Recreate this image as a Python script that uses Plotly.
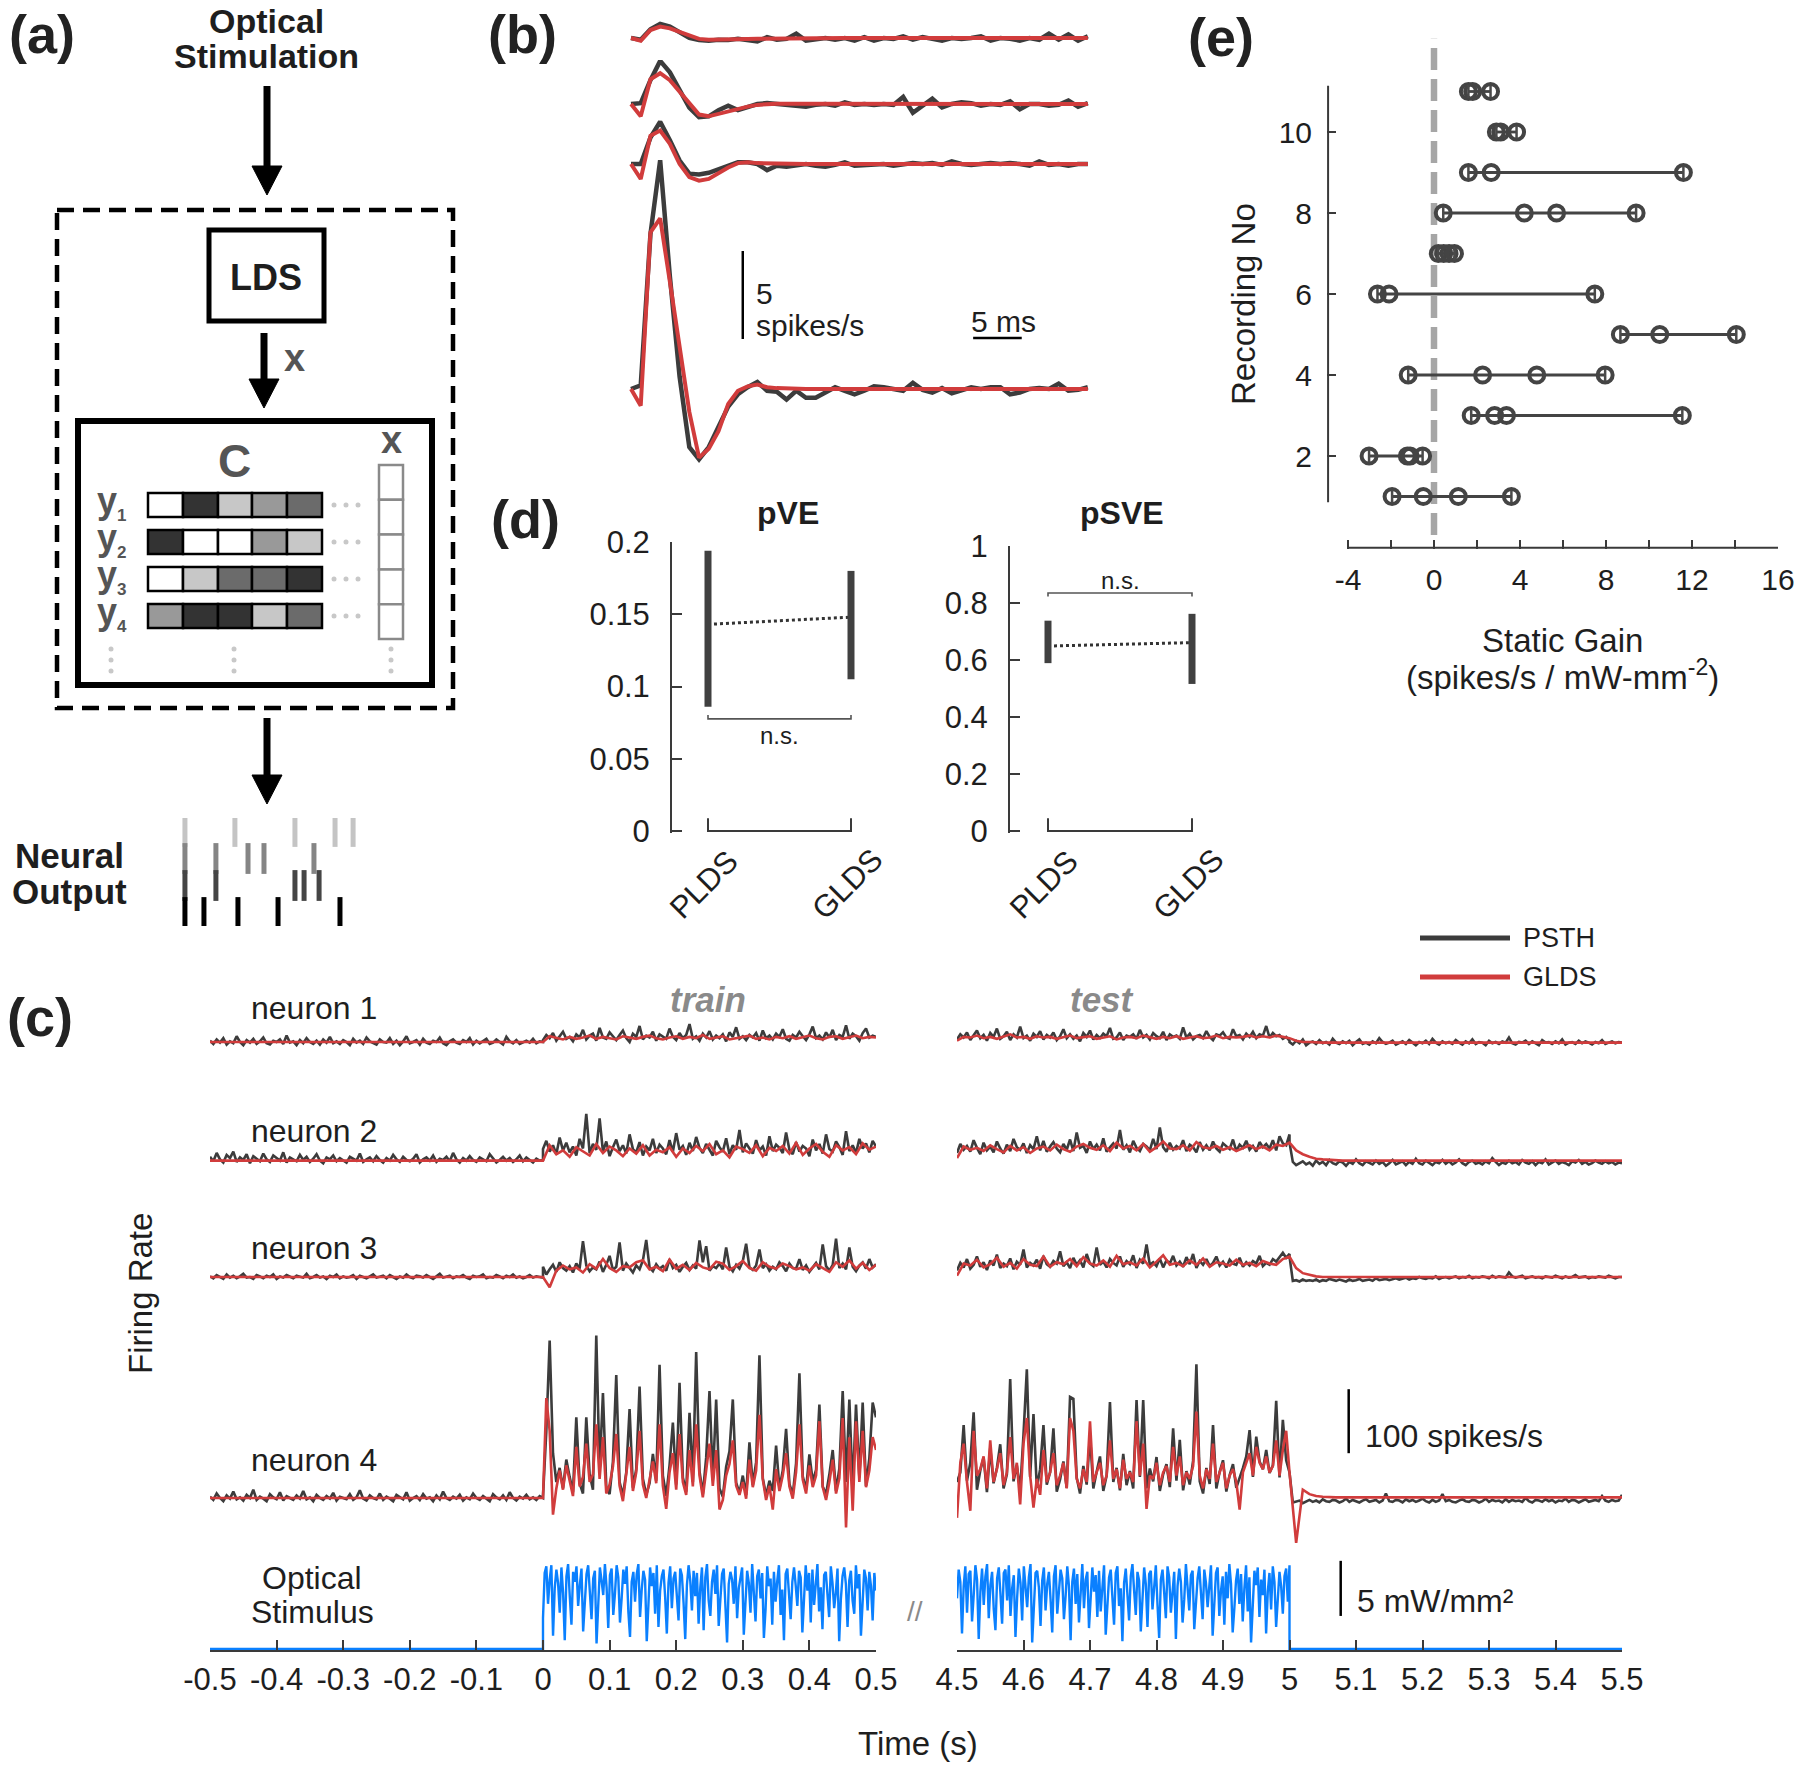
import numpy as np
import plotly.graph_objects as go

W, H = 1800, 1768
FONT = "Liberation Sans, Arial, Helvetica, sans-serif"
INK = "#1e1e1e"
AX = "#3a3a3a"
DARK = "#3c3c3c"
RED = "#d13c3c"
BLUE = "#0a80ff"
SCHEM_GREY = "#555555"

# ---------------- (a) schematic content
C_LEVELS = [[0.0, 0.8, 0.22, 0.4, 0.58],
            [0.8, 0.0, 0.0, 0.4, 0.22],
            [0.0, 0.22, 0.58, 0.58, 0.8],
            [0.4, 0.8, 0.8, 0.22, 0.58]]
RASTER_SPIKES_MS = [[2.6, 28.9, 60.5, 81.6, 91.1],
                    [2.6, 18.9, 35.8, 44.2, 70.5],
                    [2.6, 18.9, 60.5, 65.3, 73.2],
                    [2.6, 12.6, 30.5, 51.6, 84.2]]
RASTER_COLORS = ["#c4c4c4", "#858585", "#454545", "#000000"]

# ---------------- (b) impulse responses (spikes/s, 1 ms bins)
B1_PSTH = [0, -0.1, 0.5, 0.8, 0.65, 0.35, 0.0, -0.12, -0.15, -0.1, -0.12, -0.05, -0.1, -0.2, 0.05, -0.1,
           -0.05, 0.25, -0.15, -0.05, 0.0, -0.1, 0.0, -0.15, 0.05, -0.15, 0.0, -0.05, 0.1, -0.1, 0.05, -0.05,
           -0.15, 0.0, -0.05, 0.0, 0.1, -0.15, 0.0, -0.05, -0.15, 0.0, -0.1, 0.25, -0.1, 0.2, -0.15, 0.1]
B1_GLDS = [0, -0.15, 0.45, 0.65, 0.55, 0.35, 0.1, -0.05, -0.1, -0.1, -0.08, -0.06, -0.05, -0.04, -0.03, -0.02,
           -0.02, -0.01, -0.01, 0, 0, 0, 0, 0, 0, 0, 0, 0, 0, 0, 0, 0,
           0, 0, 0, 0, 0, 0, 0, 0, 0, 0, 0, 0, 0, 0, 0, 0]
B2_PSTH = [0, 0.05, 1.35, 2.45, 1.8, 0.75, -0.2, -0.75, -0.7, -0.35, -0.1, -0.35, -0.15, 0.0, 0.05, 0.0,
           -0.05, -0.1, -0.15, -0.05, 0.0, -0.1, 0.1, -0.05, 0.0, -0.05, 0.0, -0.05, 0.4, -0.5, -0.1, 0.3,
           -0.2, 0.0, 0.1, 0.05, -0.1, 0.0, -0.05, 0.15, -0.3, 0.0, 0.0, -0.1, -0.05, 0.2, -0.15, 0.05]
B2_GLDS = [0, -0.7, 1.4, 1.75, 1.35, 0.7, 0.0, -0.6, -0.7, -0.55, -0.4, -0.25, -0.15, -0.05, 0.0, 0.02,
           0.02, 0.02, 0.01, 0.01, 0, 0, 0, 0, 0, 0, 0, 0, 0, 0, 0, 0,
           0, 0, 0, 0, 0, 0, 0, 0, 0, 0, 0, 0, 0, 0, 0, 0]
B3_PSTH = [0, 0.0, 1.5, 2.4, 1.35, 0.2, -0.55, -0.6, -0.5, -0.3, -0.1, 0.1, 0.1, 0.0, -0.35, -0.1,
           -0.15, -0.05, 0.0, -0.1, -0.15, -0.05, 0.1, -0.1, -0.05, 0.0, 0.0, -0.1, -0.05, 0.05, 0.0, 0.05,
           -0.05, 0.15, 0.0, -0.05, 0.0, 0.05, 0.0, 0.05, 0.0, -0.1, 0.15, -0.05, 0.0, -0.1, 0.0, 0.0]
B3_GLDS = [0, -0.85, 1.6, 1.9, 1.15, 0.0, -0.75, -0.95, -0.85, -0.5, -0.2, 0.05, 0.1, 0.05, 0.03, 0.02,
           0.01, 0, 0, 0, 0, 0, 0, 0, 0, 0, 0, 0, 0, 0, 0, 0,
           0, 0, 0, 0, 0, 0, 0, 0, 0, 0, 0, 0, 0, 0, 0, 0]
B4_PSTH = [0, 0.2, 8.8, 13.0, 6.4, 0.7, -3.3, -4.0, -3.3, -2.2, -1.0, -0.3, 0.1, 0.4, -0.1, -0.15,
           -0.6, -0.1, -0.5, -0.5, -0.2, 0.1, -0.1, -0.3, -0.1, 0.15, 0.1, 0.0, -0.1, 0.35, -0.05, -0.2,
           0.05, -0.25, -0.1, 0.1, 0.0, 0.1, 0.1, -0.3, -0.2, 0.0, 0.05, 0.0, 0.3, -0.1, -0.05, 0.1]
B4_GLDS = [0, -0.95, 8.9, 9.7, 6.1, 2.4, -1.3, -3.9, -3.4, -2.4, -0.85, -0.1, 0.15, 0.25, 0.1, 0.05,
           0.02, 0.0, 0, 0, 0, 0, 0, 0, 0, 0, 0, 0, 0, 0, 0, 0,
           0, 0, 0, 0, 0, 0, 0, 0, 0, 0, 0, 0, 0, 0, 0, 0]

# ---------------- (d) variance explained
D_MODELS = ["PLDS", "GLDS"]
PVE_LOW = [0.086, 0.105]
PVE_HIGH = [0.194, 0.180]
PVE_MEAN = [0.143, 0.148]
PSVE_LOW = [0.589, 0.516]
PSVE_HIGH = [0.738, 0.762]
PSVE_MEAN = [0.649, 0.661]

# ---------------- (e) static gains per recording
E_RECORDINGS = [1, 2, 3, 4, 5, 6, 7, 8, 9, 10, 11]
E_GAINS = [[-1.95, -0.5, 1.13, 3.6],
           [-3.02, -1.24, -1.11, -0.53],
           [1.73, 2.82, 3.37, 11.55],
           [-1.2, 2.26, 4.78, 7.96],
           [8.67, 10.5, 14.06],
           [-2.63, -2.09, 7.48],
           [0.2, 0.45, 0.7, 0.95],
           [0.43, 4.2, 5.7, 9.4],
           [1.6, 2.66, 11.6],
           [2.9, 3.1, 3.84],
           [1.6, 1.8, 2.63]]

# ---------------- (c) firing rates (spikes/s)
# train: "off" = -0.5..0 s, "on" = 0..0.5 s ; test: "on" = 4.5..5 s, "off" = 5..5.5 s
N1_TRAIN_OFF_PSTH = [17, 12, 19, 14, 21, 11, 16, 13, 24, 15, 10, 18, 14, 20, 12, 16, 22, 13, 11, 17, 15, 19, 12, 25, 14,
                     16, 10, 18, 13, 21, 15, 12, 17, 11, 19, 14, 23, 13, 16, 12, 18, 15, 10, 20, 14, 17, 12, 22, 16, 13,
                     11, 19, 15, 14, 21, 12, 17, 10, 16, 24, 13, 15, 18, 11, 20, 14, 12, 17, 15, 22, 13, 10, 16, 19, 14,
                     12, 18, 15, 21, 11, 17, 13, 16, 20, 12, 14, 19, 15, 11, 23, 16, 13, 18, 12, 15, 17, 14, 20, 13, 16, 15]
N1_TRAIN_OFF_GLDS = [15, 15]
N1_TRAIN_ON_PSTH = [18, 26, 21, 29, 17, 24, 31, 20, 23, 16, 27, 22, 34, 19, 25, 28, 17, 37, 22, 20, 30, 24, 18, 26, 33,
                    21, 15, 28, 23, 40, 19, 25, 22, 31, 17, 27, 24, 20, 36, 23, 18, 29, 21, 26, 43, 20, 24, 17, 28, 22,
                    32, 19, 25, 21, 27, 16, 30, 23, 38, 20, 24, 18, 26, 22, 29, 17, 33, 21, 25, 19, 28, 23, 35, 20, 17,
                    26, 22, 31, 24, 18, 27, 39, 21, 25, 19, 30, 22, 34, 18, 26, 23, 41, 20, 28, 24, 17, 29, 36, 22, 25, 23]
N1_TRAIN_ON_GLDS = [15, 24, 21, 19, 23, 20, 22, 25, 20, 23, 21, 19, 24, 22, 20, 23, 25, 21, 19, 22, 24, 20, 23, 21, 26,
                    20, 22, 24, 19, 21, 23, 25, 20, 22, 19, 23, 21, 24, 20, 22, 25, 21, 19, 23, 24, 20, 22, 25, 21, 23, 22]
N1_TEST_ON_PSTH = [19, 27, 22, 30, 18, 25, 33, 21, 26, 17, 29, 23, 36, 20, 24, 31, 18, 27, 22, 39, 21, 25, 17, 28, 23,
                   32, 19, 26, 22, 30, 18, 24, 35, 21, 27, 20, 25, 16, 29, 23, 33, 19, 26, 21, 28, 24, 37, 20, 22, 30,
                   18, 25, 23, 27, 20, 34, 22, 26, 19, 29, 24, 21, 31, 18, 27, 23, 25, 20, 38, 22, 28, 19, 24, 26, 21,
                   32, 23, 18, 27, 25, 30, 22, 20, 35, 24, 26, 19, 28, 23, 31, 21, 27, 25, 40, 22, 29, 24, 26, 20, 23, 17]
N1_TEST_ON_GLDS = [17, 23, 22, 25, 21, 23, 20, 24, 27, 22, 23, 20, 24, 22, 23, 20, 22, 25, 21, 22, 24, 20, 22, 24, 19,
                   22, 23, 21, 25, 22, 20, 23, 21, 24, 20, 22, 24, 21, 22, 25, 21, 23, 22, 23, 25, 22, 24, 22, 25, 23, 21]
N1_TEST_OFF_PSTH = [15, 11, 17, 13, 19, 10, 14, 16, 12, 18, 13, 15, 11, 20, 14, 12, 16, 13, 17, 10, 15, 19, 12, 14, 11,
                    16, 13, 21, 15, 12, 14, 17, 11, 13, 16, 12, 18, 14, 10, 15, 13, 17, 12, 20, 14, 11, 16, 13, 15, 12,
                    18, 14, 11, 16, 13, 19, 12, 15, 14, 10, 17, 13, 15, 12, 16, 14, 22, 13, 11, 15, 14, 17, 12, 16, 13,
                    10, 18, 14, 15, 12, 16, 13, 19, 11, 14, 15, 12, 17, 13, 16, 14, 11, 15, 13, 18, 12, 14, 16, 13, 15, 14]
N1_TEST_OFF_GLDS = [21, 17, 15, 15, 14, 14, 14, 14, 14, 14, 14, 14, 14, 14, 14, 14, 14, 14, 14, 14, 14, 14, 14, 14, 14,
                    14, 14, 14, 14, 14, 14, 14, 14, 14, 14, 14, 14, 14, 14, 14, 14, 14, 14, 14, 14, 14, 14, 14, 14, 14, 14]

N2_TRAIN_OFF_PSTH = [20, 13, 26, 16, 11, 23, 18, 28, 12, 19, 15, 24, 10, 21, 17, 13, 25, 16, 12, 22, 18, 14, 27, 11, 19,
                     16, 13, 23, 15, 20, 12, 17, 24, 14, 10, 19, 16, 22, 13, 18, 15, 11, 20, 17, 14, 25, 12, 16, 19, 13,
                     21, 15, 11, 18, 14, 23, 16, 12, 20, 15, 13, 17, 24, 11, 16, 19, 14, 22, 12, 17, 15, 20, 13, 26, 16,
                     11, 18, 14, 21, 15, 12, 19, 16, 13, 24, 17, 11, 15, 20, 14, 18, 12, 16, 22, 13, 19, 15, 11, 17, 14, 15]
N2_TRAIN_OFF_GLDS = [14, 14]
N2_TRAIN_ON_PSTH = [32, 45, 28, 38, 24, 50, 30, 42, 27, 36, 22, 48, 33, 87, 26, 40, 31, 80, 28, 44, 21, 35, 47, 29, 38,
                    25, 55, 32, 27, 43, 22, 36, 30, 48, 26, 39, 33, 24, 46, 28, 57, 31, 37, 23, 42, 29, 51, 34, 26, 40,
                    30, 22, 45, 35, 28, 49, 24, 38, 31, 62, 27, 41, 33, 25, 46, 30, 36, 22, 52, 29, 39, 34, 26, 58, 31,
                    24, 43, 28, 37, 33, 21, 47, 30, 40, 25, 55, 32, 28, 44, 35, 23, 60, 29, 38, 26, 48, 33, 41, 27, 45, 36]
N2_TRAIN_ON_GLDS = [14, 38, 24, 30, 20, 35, 28, 22, 40, 26, 36, 30, 21, 33, 25, 38, 22, 31, 27, 35, 20, 33, 26, 37, 29,
                    40, 24, 30, 19, 36, 32, 26, 38, 21, 34, 29, 37, 25, 42, 23, 33, 40, 28, 20, 38, 30, 35, 24, 41, 31, 36]
N2_TEST_ON_PSTH = [26, 40, 31, 37, 28, 46, 34, 24, 42, 30, 36, 27, 44, 33, 25, 39, 29, 48, 35, 31, 41, 26, 38, 32, 52,
                   30, 45, 28, 36, 43, 33, 27, 40, 31, 47, 29, 58, 34, 37, 26, 44, 32, 39, 30, 49, 28, 35, 41, 33, 62,
                   31, 38, 27, 45, 34, 29, 40, 36, 30, 48, 32, 66, 35, 28, 42, 31, 37, 33, 46, 29, 39, 35, 27, 43, 31,
                   38, 30, 44, 33, 28, 41, 36, 32, 47, 29, 39, 34, 45, 31, 37, 28, 43, 35, 40, 33, 46, 30, 52, 41, 38, 55]
N2_TEST_ON_GLDS = [18, 36, 31, 34, 29, 38, 32, 27, 37, 30, 35, 26, 33, 36, 30, 39, 32, 28, 36, 40, 34, 31, 38, 29, 42,
                   33, 37, 30, 40, 28, 35, 44, 33, 32, 38, 30, 43, 35, 33, 37, 31, 35, 29, 34, 38, 32, 36, 30, 39, 37, 42]
N2_TEST_OFF_PSTH = [42, 12, 7, 10, 13, 8, 11, 6, 14, 9, 12, 7, 15, 10, 8, 13, 11, 6, 12, 9, 16, 10, 7, 13, 11,
                    8, 14, 9, 12, 6, 10, 15, 8, 11, 13, 7, 12, 9, 17, 10, 8, 14, 11, 7, 12, 10, 15, 9, 13, 8,
                    11, 16, 10, 7, 12, 14, 9, 11, 8, 13, 10, 18, 12, 7, 11, 9, 14, 10, 12, 8, 15, 11, 9, 13, 7,
                    12, 10, 16, 8, 11, 14, 9, 12, 10, 7, 13, 11, 15, 9, 12, 8, 10, 14, 11, 9, 13, 10, 12, 8, 11, 10]
N2_TEST_OFF_GLDS = [42, 30, 24, 20, 17, 16, 15, 15, 14, 14, 14, 14, 14, 14, 14, 14, 14, 14, 14, 14, 14, 14, 14, 14, 14,
                    14, 14, 14, 14, 14, 14, 14, 14, 14, 14, 14, 14, 14, 14, 14, 14, 14, 14, 14, 14, 14, 14, 14, 14, 14, 14]

N3_TRAIN_OFF_PSTH = [13, 10, 15, 12, 9, 16, 11, 14, 10, 13, 17, 11, 12, 9, 15, 13, 10, 14, 12, 16, 9, 13, 11, 15, 12,
                     10, 14, 13, 11, 17, 10, 12, 15, 11, 13, 9, 14, 12, 16, 10, 13, 11, 12, 15, 9, 14, 12, 10, 13, 16,
                     11, 12, 14, 10, 15, 12, 9, 13, 11, 16, 12, 10, 14, 13, 11, 15, 12, 9, 13, 17, 11, 12, 14, 10, 13,
                     12, 15, 11, 9, 14, 12, 13, 16, 10, 12, 11, 15, 13, 10, 14, 12, 16, 11, 13, 10, 12, 15, 11, 13, 12, 11]
N3_TRAIN_OFF_GLDS = [12, 12]
N3_TRAIN_ON_PSTH = [28, 16, 24, 31, 20, 35, 26, 22, 29, 19, 33, 25, 68, 30, 21, 27, 24, 36, 20, 31, 45, 23, 28, 66, 22,
                    33, 26, 19, 30, 24, 38, 70, 27, 21, 32, 25, 29, 22, 40, 26, 31, 20, 28, 34, 23, 30, 25, 69, 35, 60,
                    22, 29, 26, 33, 24, 58, 28, 21, 31, 25, 37, 64, 27, 23, 30, 55, 26, 32, 22, 28, 24, 35, 29, 21, 33,
                    26, 25, 40, 23, 30, 20, 27, 34, 24, 63, 29, 22, 31, 72, 26, 33, 24, 58, 28, 21, 30, 35, 25, 40, 27, 32]
N3_TRAIN_ON_GLDS = [12, -4, 22, 30, 24, 27, 19, 32, 25, 40, 26, 20, 29, 27, 35, 38, 24, 28, 21, 39, 25, 31, 23, 34, 27,
                    24, 36, 33, 23, 29, 37, 26, 22, 35, 28, 25, 33, 29, 24, 27, 22, 32, 26, 20, 35, 28, 38, 25, 34, 23, 31]
N3_TEST_ON_PSTH = [22, 34, 27, 40, 25, 31, 44, 28, 35, 23, 38, 30, 47, 26, 33, 29, 41, 24, 36, 31, 55, 27, 34, 30, 39,
                   25, 45, 32, 28, 37, 33, 52, 29, 35, 26, 42, 31, 38, 27, 48, 33, 29, 58, 31, 36, 27, 40, 34, 30, 44,
                   28, 37, 32, 46, 26, 39, 33, 63, 31, 35, 29, 41, 27, 38, 33, 45, 30, 36, 28, 43, 32, 48, 26, 37, 31,
                   40, 29, 34, 44, 30, 36, 27, 39, 33, 31, 42, 28, 35, 30, 37, 33, 45, 29, 34, 31, 40, 36, 44, 50, 42, 48]
N3_TEST_ON_GLDS = [14, 33, 30, 39, 27, 32, 42, 28, 34, 25, 40, 31, 29, 44, 28, 35, 32, 40, 29, 43, 33, 30, 38, 28, 45,
                   32, 35, 30, 41, 27, 36, 46, 31, 34, 29, 38, 31, 41, 28, 35, 33, 30, 39, 31, 34, 29, 37, 33, 31, 40, 44]
N3_TEST_OFF_PSTH = [44, 6, 7, 5, 8, 6, 7, 6, 8, 5, 7, 6, 9, 7, 6, 8, 7, 5, 8, 6, 7, 9, 6, 7, 8,
                    6, 10, 7, 8, 9, 7, 8, 10, 8, 9, 11, 8, 10, 9, 12, 10, 9, 11, 10, 13, 9, 11, 12, 10, 11,
                    13, 10, 12, 11, 14, 10, 12, 11, 13, 12, 10, 14, 11, 13, 12, 11, 19, 13, 11, 12, 14, 10, 12, 13, 11,
                    12, 10, 13, 12, 11, 14, 12, 10, 13, 11, 12, 15, 11, 12, 13, 10, 12, 11, 13, 12, 11, 14, 12, 10, 12, 12]
N3_TEST_OFF_GLDS = [44, 26, 18, 15, 13, 12, 12, 12, 12, 12, 12, 12, 12, 12, 12, 12, 12, 12, 12, 12, 12, 12, 12, 12, 12,
                    12, 12, 12, 12, 12, 12, 12, 12, 12, 12, 12, 12, 12, 12, 12, 12, 12, 12, 12, 12, 12, 12, 12, 12, 12, 12]

N4_TRAIN_OFF_PSTH = [17, 12, 22, 15, 10, 19, 14, 25, 13, 16, 11, 20, 15, 28, 12, 17, 14, 10, 21, 16, 13, 24, 11, 18, 15,
                     12, 19, 14, 26, 13, 16, 10, 20, 15, 12, 18, 14, 23, 11, 17, 15, 13, 21, 12, 16, 27, 14, 11, 19, 15,
                     13, 22, 12, 17, 14, 10, 20, 16, 13, 24, 11, 15, 18, 12, 21, 14, 16, 10, 19, 13, 25, 15, 12, 17, 14,
                     20, 11, 16, 13, 22, 15, 12, 18, 14, 10, 21, 16, 13, 19, 12, 24, 15, 11, 17, 14, 20, 13, 16, 12, 18, 15]
N4_TRAIN_OFF_GLDS = [15, 15]
N4_TRAIN_ON_PSTH = [18, 120, 261, 85, 40, 62, 30, 75, 48, 24, 141, 38, 22, 141, 52, 28, 269, 58, 179, 33,
                    21, 72, 207, 40, 19, 55, 154, 31, 60, 189, 45, 20, 38, 84, 42, 223, 50, 18, 66, 133,
                    36, 195, 47, 25, 148, 40, 243, 57, 21, 78, 182, 44, 169, 30, 17, 64, 88, 169, 39, 23,
                    50, 20, 102, 35, 71, 238, 46, 19, 42, 26, 97, 30, 58, 123, 37, 20, 69, 210, 49, 28,
                    83, 41, 59, 161, 33, 21, 52, 90, 26, 61, 182, 40, 169, 29, 161, 47, 164, 34, 77, 164, 141]
N4_TRAIN_ON_GLDS = [15, 171, 120, -11, 30, 58, 28, 66, 40, 18, 95, 33, 48, 100, 40, 52, 130, 45, 110, 22,
                    36, 64, 115, 34, 10, 52, 95, 26, 55, 120, 36, 15, 42, 72, 38, 130, 34, -2, 55, 85,
                    28, 115, 40, 20, 90, 33, 130, 50, 16, 58, 100, 34, 90, -3, 12, 50, 68, 105, 34, 20,
                    40, 14, 75, 32, 58, 145, 44, 12, 34, -3, 60, 26, 50, 85, 33, 14, 56, 130, 44, 22,
                    66, 32, 50, 135, 32, 12, 40, 75, 22, 46, 140, -31, 110, -5, 135, 40, 120, 32, 58, 110, 90]
N4_TEST_ON_PSTH = [40, 55, 129, 42, 70, 149, 28, 58, 78, 24, 93, 38, 62, 99, 30, 52, 201, 41, 66, 27,
                   114, 216, 48, 146, 31, 60, 129, 36, 55, 124, 25, 44, 72, 31, 173, 170, 47, 22, 65, 36,
                   113, 30, 56, 80, 26, 50, 165, 40, 62, 27, 84, 35, 57, 30, 168, 48, 168, 30, 61, 41,
                   79, 26, 52, 68, 32, 124, 42, 106, 27, 57, 36, 73, 224, 41, 22, 62, 37, 129, 30, 56,
                   74, 25, 51, 68, 31, 45, 62, 80, 121, 48, 111, 72, 60, 90, 54, 66, 167, 47, 137, 74, 55]
N4_TEST_ON_GLDS = [-16, 70, 100, 40, -5, 120, 50, 60, 80, 30, 105, 40, 60, 85, 35, 55, 110, 45, 70, 5,
                   100, 140, 50, 0, 45, 20, 90, 40, 55, 85, 35, 50, 70, 30, 140, 120, 45, 30, 60, 40,
                   135, 40, 55, 70, 35, 50, 105, 45, 60, 30, 75, 45, 55, 40, 135, 50, 100, -2, 50, 45,
                   70, 35, 55, 65, 40, 95, 50, 80, 35, 55, 45, 65, 150, 50, 30, 60, 45, 100, 40, 55,
                   70, 30, 50, 60, 40, -3, 55, 70, 85, 50, 95, 70, 60, 80, 55, 65, 105, 50, 90, 120, 55]
N4_TEST_OFF_PSTH = [55, 8, 9, 11, 7, 10, 12, 9, 11, 8, 13, 10, 9, 12, 11, 8, 10, 14, 9, 12, 10, 8, 11, 13, 9,
                    10, 12, 8, 11, 22, 10, 9, 12, 11, 8, 13, 10, 12, 9, 11, 14, 10, 8, 12, 9, 11, 21, 10, 12, 9,
                    8, 11, 13, 10, 9, 12, 11, 8, 10, 14, 9, 12, 10, 11, 8, 13, 9, 12, 10, 11, 9, 15, 10, 8, 12,
                    11, 9, 13, 10, 12, 8, 11, 10, 14, 9, 12, 11, 8, 10, 13, 9, 11, 12, 10, 18, 11, 9, 12, 10, 11, 20]
N4_TEST_OFF_GLDS = [55, -55, 28, 21, 18, 17, 16, 16, 16, 16, 16, 16, 16, 16, 16, 16, 16, 16, 16, 16, 16, 16, 16, 16, 16,
                    16, 16, 16, 16, 16, 16, 16, 16, 16, 16, 16, 16, 16, 16, 16, 16, 16, 16, 16, 16, 16, 16, 16, 16, 16, 16]

# optical stimulus (mW/mm^2)
STIM_TRAIN_OFF = [0, 0]
STIM_TRAIN_ON = [2.8, 6.9, 7.5, 4.1, 6.3, 7.6, 1.2, 5.5, 7.2, 6.0, 3.3, 7.4, 5.1, 0.8, 6.6, 7.7, 4.8, 2.2, 7.0, 6.1,
                 7.5, 3.9, 5.8, 7.3, 1.6, 4.4, 6.8, 7.6, 5.2, 2.7, 6.4, 7.1, 0.5, 3.6, 7.4, 6.2, 4.9, 7.7, 5.6, 1.9,
                 6.7, 7.3, 3.1, 5.0, 7.6, 6.5, 2.4, 4.6, 7.2, 5.9, 7.5, 3.4, 1.1, 6.1, 7.0, 4.3, 6.8, 7.7, 2.9, 5.4,
                 7.1, 6.3, 0.7, 4.0, 7.4, 5.7, 6.9, 3.2, 7.6, 2.0, 5.3, 6.6, 7.2, 4.7, 1.4, 6.0, 7.5, 3.7, 6.4, 7.0,
                 5.1, 2.6, 7.3, 6.7, 4.2, 0.9, 5.8, 7.6, 6.2, 3.5, 7.1, 4.8, 6.9, 2.3, 5.6, 7.4, 1.7, 6.5, 7.7, 4.4,
                 3.0, 6.1, 7.2, 5.0, 7.6, 2.1, 4.5, 6.8, 7.3, 3.8, 0.6, 5.9, 7.0, 6.3, 4.1, 7.5, 2.8, 5.5, 6.7, 7.4,
                 1.3, 4.9, 7.1, 6.0, 3.3, 7.7, 5.2, 2.5, 6.6, 7.2, 4.6, 6.9, 1.0, 3.6, 7.5, 5.7, 6.4, 2.2, 7.0, 4.3,
                 6.2, 7.6, 3.1, 5.4, 0.8, 6.8, 7.3, 4.7, 2.7, 6.1, 7.4, 5.8, 3.9, 7.1, 6.5, 1.5, 4.2, 7.6, 5.3, 6.9,
                 2.4, 7.2, 4.0, 6.3, 7.7, 3.4, 5.6, 1.8, 6.7, 7.0, 4.8, 2.9, 7.5, 6.0, 3.7, 5.1, 7.3, 0.7, 4.5, 6.6,
                 7.4, 5.9, 2.0, 6.2, 7.1, 4.4, 3.2, 7.6, 5.5, 6.8, 1.2, 4.9, 7.2, 6.4, 3.5, 7.0, 5.7, 2.6, 6.9, 5.3]
STIM_TEST_ON = [4.6, 7.2, 6.1, 1.4, 5.7, 7.5, 3.3, 6.8, 7.1, 2.5, 4.9, 7.6, 6.3, 0.9, 5.2, 7.3, 4.0, 6.6, 7.7, 2.8,
                5.8, 7.0, 3.6, 1.7, 6.4, 7.4, 5.0, 2.3, 6.9, 7.2, 4.4, 7.6, 3.0, 5.5, 6.7, 1.1, 4.7, 7.3, 6.0, 2.6,
                7.5, 5.3, 3.8, 6.5, 7.7, 0.6, 4.2, 6.9, 7.1, 5.6, 2.1, 6.2, 7.4, 3.5, 5.9, 7.0, 4.5, 1.5, 6.6, 7.6,
                3.2, 5.1, 7.2, 6.4, 2.7, 4.8, 7.5, 5.7, 0.8, 6.1, 7.3, 4.1, 6.8, 2.4, 5.4, 7.7, 3.7, 6.3, 7.0, 1.9,
                4.6, 7.4, 5.2, 6.7, 2.9, 7.1, 3.4, 5.8, 7.6, 1.3, 4.3, 6.5, 7.2, 5.0, 2.2, 6.9, 7.5, 3.9, 5.5, 0.7,
                6.0, 7.3, 4.7, 2.6, 6.6, 7.7, 5.3, 3.1, 7.0, 6.2, 1.6, 4.4, 7.4, 5.9, 2.0, 6.8, 7.1, 3.6, 5.6, 7.6,
                4.0, 1.0, 6.3, 7.2, 5.1, 2.8, 7.5, 6.5, 3.3, 4.9, 7.0, 0.9, 5.7, 7.3, 6.1, 2.4, 4.5, 7.7, 5.4, 3.5,
                6.7, 7.1, 1.8, 4.2, 6.4, 7.5, 5.0, 2.7, 7.2, 6.0, 3.8, 5.6, 7.6, 1.2, 4.8, 6.9, 7.4, 3.0, 5.3, 6.6,
                2.2, 7.0, 4.6, 7.7, 5.9, 1.5, 3.7, 6.2, 7.3, 4.1, 6.8, 2.5, 5.5, 7.6, 3.4, 6.5, 0.6, 4.4, 7.1, 5.8,
                7.4, 2.9, 6.3, 4.9, 7.2, 1.4, 5.2, 6.9, 3.6, 7.5, 6.1, 2.0, 4.7, 7.0, 5.7, 3.2, 6.6, 7.3, 4.3, 7.6]
STIM_TEST_OFF = [0, 0]

TRAIN_TICKS = [-0.5, -0.4, -0.3, -0.2, -0.1, 0, 0.1, 0.2, 0.3, 0.4, 0.5]
TRAIN_LABELS = ["-0.5", "-0.4", "-0.3", "-0.2", "-0.1", "0", "0.1", "0.2", "0.3", "0.4", "0.5"]
TEST_TICKS = [4.5, 4.6, 4.7, 4.8, 4.9, 5, 5.1, 5.2, 5.3, 5.4, 5.5]
TEST_LABELS = ["4.5", "4.6", "4.7", "4.8", "4.9", "5", "5.1", "5.2", "5.3", "5.4", "5.5"]

NEURONS = [
    (N1_TRAIN_OFF_PSTH, N1_TRAIN_ON_PSTH, N1_TRAIN_OFF_GLDS, N1_TRAIN_ON_GLDS,
     N1_TEST_ON_PSTH, N1_TEST_OFF_PSTH, N1_TEST_ON_GLDS, N1_TEST_OFF_GLDS),
    (N2_TRAIN_OFF_PSTH, N2_TRAIN_ON_PSTH, N2_TRAIN_OFF_GLDS, N2_TRAIN_ON_GLDS,
     N2_TEST_ON_PSTH, N2_TEST_OFF_PSTH, N2_TEST_ON_GLDS, N2_TEST_OFF_GLDS),
    (N3_TRAIN_OFF_PSTH, N3_TRAIN_ON_PSTH, N3_TRAIN_OFF_GLDS, N3_TRAIN_ON_GLDS,
     N3_TEST_ON_PSTH, N3_TEST_OFF_PSTH, N3_TEST_ON_GLDS, N3_TEST_OFF_GLDS),
    (N4_TRAIN_OFF_PSTH, N4_TRAIN_ON_PSTH, N4_TRAIN_OFF_GLDS, N4_TRAIN_ON_GLDS,
     N4_TEST_ON_PSTH, N4_TEST_OFF_PSTH, N4_TEST_ON_GLDS, N4_TEST_OFF_GLDS),
]
NEURON_BASE_RATE = [15, 15, 12, 15]


# ---------------- helpers for placing things in pixel space
def dom_x(l, r):
    return [l / W, r / W]


def dom_y(t, b):
    return [1 - b / H, 1 - t / H]


def x_range(l, r, ref_px, ref_val, ppu):
    return [ref_val + (l - ref_px) / ppu, ref_val + (r - ref_px) / ppu]


def y_range(t, b, ref_px, ref_val, ppu):
    return [ref_val - (b - ref_px) / ppu, ref_val + (ref_px - t) / ppu]


HIDDEN = dict(visible=False, showgrid=False, zeroline=False, automargin=False)
TICKFONT = dict(family=FONT, size=31, color=INK)

lay = {}
# (b)
lay["xaxis"] = dict(HIDDEN, domain=dom_x(625, 1095), range=x_range(625, 1095, 631, 0, 9.72), anchor="y")
B_BASE_PX = [38, 104, 164, 389]
B_ROWS_PX = [(5, 64), (60, 130), (116, 194), (128, 478)]
for k in range(4):
    key = "yaxis" if k == 0 else f"yaxis{k + 1}"
    t, b = B_ROWS_PX[k]
    lay[key] = dict(HIDDEN, domain=dom_y(t, b), range=y_range(t, b, B_BASE_PX[k], 0, 17.6), anchor="x")


# (d)
def d_axes(xkey, ykey, xa, ya, x_l, x_r, px1, ppx, y_t, y_b, ppy, tickvals, ticktext):
    lay[xkey] = dict(domain=dom_x(x_l, x_r), range=x_range(x_l, x_r, px1, 1, ppx), anchor=ya, automargin=False,
                     showline=False, showgrid=False, zeroline=False, showticklabels=False, ticks="")
    lay[ykey] = dict(domain=dom_y(y_t, y_b), range=y_range(y_t, y_b, 831, 0, ppy), anchor=xa, automargin=False,
                     showline=True, linecolor=AX, linewidth=2, ticks="inside", ticklen=10, tickwidth=2,
                     tickcolor=AX, tickvals=tickvals, ticktext=ticktext, tickfont=TICKFONT,
                     ticklabelstandoff=14, showgrid=False, zeroline=False)


d_axes("xaxis2", "yaxis5", "x2", "y5", 672, 865, 708, 143, 542, 833, 1445,
       [0, 0.05, 0.1, 0.15, 0.2], ["0", "0.05", "0.1", "0.15", "0.2"])
d_axes("xaxis3", "yaxis6", "x3", "y6", 1010, 1205, 1048, 144, 546, 833, 285,
       [0, 0.2, 0.4, 0.6, 0.8, 1], ["0", "0.2", "0.4", "0.6", "0.8", "1"])

# (e)
E_XR = x_range(1327, 1778, 1434, 0, 21.5)
E_YR = y_range(38, 549, 456, 2, 40.5)
lay["xaxis4"] = dict(domain=dom_x(1327, 1778), range=E_XR, anchor="y7", showline=False, showgrid=False,
                     zeroline=False, ticks="inside", ticklen=9, tickwidth=2, tickcolor=AX, automargin=False,
                     tickvals=[-4, 0, 4, 8, 12, 16], ticktext=["-4", "0", "4", "8", "12", "16"],
                     minor=dict(tickvals=[-2, 2, 6, 10, 14], ticks="inside", ticklen=9, tickwidth=2, tickcolor=AX),
                     tickfont=dict(family=FONT, size=30, color=INK), ticklabelstandoff=10)
lay["yaxis7"] = dict(domain=dom_y(38, 549), range=E_YR, anchor="x4", showline=False, showgrid=False,
                     zeroline=False, ticks="inside", ticklen=9, tickwidth=2, tickcolor=AX, automargin=False,
                     tickvals=[2, 4, 6, 8, 10], tickfont=dict(family=FONT, size=30, color=INK),
                     ticklabelstandoff=14)

# (c)
C_XAX = dict(showline=True, linecolor=AX, linewidth=2, ticks="inside", ticklen=10, tickwidth=1.5, automargin=False,
             tickcolor=AX, tickfont=TICKFONT, ticklabelstandoff=1, showgrid=False, zeroline=False, anchor="y8")
lay["xaxis5"] = dict(C_XAX, domain=dom_x(210, 876), range=[-0.5, 0.5], tickvals=TRAIN_TICKS, ticktext=TRAIN_LABELS)
lay["xaxis6"] = dict(C_XAX, domain=dom_x(957, 1622), range=[4.5, 5.5], tickvals=TEST_TICKS, ticktext=TEST_LABELS)
lay["yaxis8"] = dict(HIDDEN, domain=dom_y(1555, 1650), range=y_range(1555, 1650, 1649, 0, 11.02), anchor="x5")
N_BASE_PX = [1042, 1160, 1277, 1498]
N_ROWS_PX = [(985, 1075), (1085, 1195), (1205, 1310), (1318, 1552)]
for k in range(4):
    t, b = N_ROWS_PX[k]
    lay[f"yaxis{9 + k}"] = dict(HIDDEN, domain=dom_y(t, b),
                               range=y_range(t, b, N_BASE_PX[k], NEURON_BASE_RATE[k], 0.64), anchor="x5")

# overlay in pixel units, and raster axis
lay["xaxis7"] = dict(HIDDEN, domain=[0, 1], range=[0, W], anchor="y13")
lay["yaxis13"] = dict(HIDDEN, domain=[0, 1], range=[H, 0], anchor="x7")
lay["xaxis8"] = dict(HIDDEN, domain=dom_x(180, 370), range=[0, 100], anchor="y14")
lay["yaxis14"] = dict(HIDDEN, domain=dom_y(818, 926), range=[4.5, 0.5], anchor="x8")

fig = go.Figure()

# ---------------- (b) traces
B_SERIES = [(B1_PSTH, B1_GLDS), (B2_PSTH, B2_GLDS), (B3_PSTH, B3_GLDS), (B4_PSTH, B4_GLDS)]
for k, (ps, gl) in enumerate(B_SERIES):
    ya = "y" if k == 0 else f"y{k + 1}"
    fig.add_trace(go.Scatter(x=np.arange(len(ps)), y=ps, xaxis="x", yaxis=ya, mode="lines",
                             line=dict(color=DARK, width=4.5)))
    fig.add_trace(go.Scatter(x=np.arange(len(gl)), y=gl, xaxis="x", yaxis=ya, mode="lines",
                             line=dict(color=RED, width=4)))


# ---------------- (c) traces
def seg(vals_a, vals_b, t0, t1, t2):
    x = np.concatenate([np.linspace(t0, t1, len(vals_a)), np.linspace(t1, t2, len(vals_b))])
    return x, list(vals_a) + list(vals_b)


for k, n in enumerate(NEURONS):
    tr_off_p, tr_on_p, tr_off_g, tr_on_g, te_on_p, te_off_p, te_on_g, te_off_g = n
    ya = f"y{9 + k}"
    for xa, (ap, bp, ag, bg, t0, t1, t2) in (("x5", (tr_off_p, tr_on_p, tr_off_g, tr_on_g, -0.5, 0, 0.5)),
                                              ("x6", (te_on_p, te_off_p, te_on_g, te_off_g, 4.5, 5, 5.5))):
        x, y = seg(ap, bp, t0, t1, t2)
        fig.add_trace(go.Scatter(x=x, y=y, xaxis=xa, yaxis=ya, mode="lines", line=dict(color=DARK, width=2.6)))
        x, y = seg(ag, bg, t0, t1, t2)
        fig.add_trace(go.Scatter(x=x, y=y, xaxis=xa, yaxis=ya, mode="lines", line=dict(color=RED, width=2.6)))

x, y = seg(STIM_TRAIN_OFF, STIM_TRAIN_ON, -0.5, 0, 0.5)
fig.add_trace(go.Scatter(x=x, y=y, xaxis="x5", yaxis="y8", mode="lines", line=dict(color=BLUE, width=2.4)))
x, y = seg(STIM_TEST_ON, STIM_TEST_OFF, 4.5, 5, 5.5)
fig.add_trace(go.Scatter(x=x, y=y, xaxis="x6", yaxis="y8", mode="lines", line=dict(color=BLUE, width=2.4)))

# ---------------- (d) traces
D_POS = [1, 2]
for xa, ya, lo, hi, mean in (("x2", "y5", PVE_LOW, PVE_HIGH, PVE_MEAN), ("x3", "y6", PSVE_LOW, PSVE_HIGH, PSVE_MEAN)):
    fig.add_trace(go.Scatter(x=D_POS, y=mean, xaxis=xa, yaxis=ya, mode="lines",
                             line=dict(color="#333333", width=3, dash="dot")))
    for i in range(2):
        fig.add_trace(go.Scatter(x=[D_POS[i], D_POS[i]], y=[lo[i], hi[i]], xaxis=xa, yaxis=ya, mode="lines",
                                 line=dict(color="#404040", width=7)))

# ---------------- (e) traces
fig.add_trace(go.Scatter(x=[0, 0], y=[0.05, 12.3], xaxis="x4", yaxis="y7", mode="lines",
                         line=dict(color="#a6a6a6", width=6.5, dash="22px,9px")))
for rec, gains in zip(E_RECORDINGS, E_GAINS):
    fig.add_trace(go.Scatter(x=gains, y=[rec] * len(gains), xaxis="x4", yaxis="y7", mode="lines+markers",
                             line=dict(color="#444444", width=2.8),
                             marker=dict(symbol="circle-open", size=15, line=dict(color="#4a4a4a", width=4))))
    fig.add_trace(go.Scatter(x=[min(gains), max(gains)], y=[rec, rec], xaxis="x4", yaxis="y7", mode="markers",
                             marker=dict(symbol="line-ns", size=9, line=dict(color="#4a4a4a", width=2.5))))

# ---------------- (a) raster
for r, times in enumerate(RASTER_SPIKES_MS):
    fig.add_trace(go.Scatter(x=times, y=[r + 1] * len(times), xaxis="x8", yaxis="y14", mode="markers",
                             marker=dict(symbol="line-ns", size=22, line=dict(color=RASTER_COLORS[r], width=5))))

fig.add_trace(go.Scatter(x=[0], y=[0], xaxis="x7", yaxis="y13", mode="markers",
                         marker=dict(opacity=0), hoverinfo="skip"))

# ---------------- shapes & text
shapes = []
ann = []


def shp(**kw):
    kw.setdefault("xref", "x7")
    kw.setdefault("yref", "y13")
    shapes.append(kw)


def txt(x, y, s, size=31, color=INK, angle=0, xa="center", ya="middle", xref="x7", yref="y13"):
    ann.append(dict(x=x, y=y, text=s, xref=xref, yref=yref, showarrow=False, textangle=angle,
                    font=dict(family=FONT, size=size, color=color), xanchor=xa, yanchor=ya))


def arrow(x, y_top, y_tip, head_len=29, head_w=30, shaft=7):
    shp(type="line", x0=x, x1=x, y0=y_top, y1=y_tip - head_len + 3, line=dict(color="black", width=shaft))
    shp(type="path", path=f"M {x - head_w / 2},{y_tip - head_len} L {x + head_w / 2},{y_tip - head_len} L {x},{y_tip} Z",
        fillcolor="black", line=dict(color="black", width=1))


# (a)
arrow(267, 86, 195)
arrow(264, 333, 408)
arrow(267, 718, 804)
shp(type="rect", x0=57, y0=210, x1=453, y1=708, line=dict(color="black", width=4.5, dash="17px,9px"))
shp(type="rect", x0=209, y0=230, x1=324, y1=321, line=dict(color="black", width=5))
shp(type="rect", x0=78, y0=421, x1=432, y1=685, line=dict(color="black", width=6))
CELL_X = [148, 183, 218, 252, 287, 322]
ROW_Y = [505, 542, 579, 616]
for r, row in enumerate(C_LEVELS):
    for c, v in enumerate(row):
        g = int(round(255 * (1 - v)))
        shp(type="rect", x0=CELL_X[c], x1=CELL_X[c + 1], y0=ROW_Y[r] - 12, y1=ROW_Y[r] + 12,
            fillcolor=f"rgb({g},{g},{g})", line=dict(color="black", width=2.5))
    for dx in (334, 346, 358):
        shp(type="circle", x0=dx - 2.5, x1=dx + 2.5, y0=ROW_Y[r] - 2.5, y1=ROW_Y[r] + 2.5,
            fillcolor="#c8c8c8", line=dict(width=0))
    txt(112, ROW_Y[r] - 3,
        f"<b>y<sub><span style='font-size:17px'>{r + 1}</span></sub></b>", size=36, color=SCHEM_GREY)
for i in range(5):
    shp(type="rect", x0=379, x1=403, y0=465 + i * 34.8, y1=465 + (i + 1) * 34.8,
        fillcolor="white", line=dict(color="#8a8a8a", width=2.5))
for vx in (111, 234, 391):
    for vy in (649, 660, 671):
        shp(type="circle", x0=vx - 2.5, x1=vx + 2.5, y0=vy - 2.5, y1=vy + 2.5, fillcolor="#c8c8c8",
            line=dict(width=0))
txt(266, 21, "<b>Optical</b>", size=34)
txt(266, 56, "<b>Stimulation</b>", size=34)
txt(266, 277, "<b>LDS</b>", size=36)
txt(294, 358, "<b>x</b>", size=38, color=SCHEM_GREY)
txt(234, 461, "<b>C</b>", size=46, color=SCHEM_GREY)
txt(391, 440, "<b>x</b>", size=38, color=SCHEM_GREY)
txt(69, 855, "<b>Neural</b>", size=35)
txt(69, 891, "<b>Output</b>", size=35)

# panel letters
for lab, px, py in (("(a)", 42, 34), ("(b)", 522, 34), ("(d)", 525, 519), ("(e)", 1221, 37), ("(c)", 40, 1017)):
    txt(px, py, f"<b>{lab}</b>", size=54, color="#222222")

# (b) scale bars
shp(type="line", xref="x", yref="y4", x0=11.5, x1=11.5, y0=2.84, y1=7.84, line=dict(color="black", width=2.5))
shp(type="line", xref="x", yref="y4", x0=35.2, x1=40.2, y0=2.9, y1=2.9, line=dict(color="black", width=2.5))
txt(754, 293, "5", size=30, xa="left")
txt(754, 325, "spikes/s", size=30, xa="left")
txt(1003, 321, "5 ms", size=30)

# (d) brackets and labels
shp(type="path", xref="x2", yref="y5", path="M 1,0.0088 L 1,0 L 2,0 L 2,0.0088", line=dict(color=AX, width=2))
shp(type="path", xref="x3", yref="y6", path="M 1,0.045 L 1,0 L 2,0 L 2,0.045", line=dict(color=AX, width=2))
shp(type="path", xref="x2", yref="y5", path="M 1,0.0802 L 1,0.0776 L 2,0.0776 L 2,0.0802",
    line=dict(color="#555555", width=1.6))
shp(type="path", xref="x3", yref="y6", path="M 1,0.823 L 1,0.835 L 2,0.835 L 2,0.823",
    line=dict(color="#555555", width=1.6))
txt(1.5, 0.066, "n.s.", size=24, xref="x2", yref="y5")
txt(1.5, 0.88, "n.s.", size=24, xref="x3", yref="y6")
txt(788, 513, "<b>pVE</b>", size=32)
txt(1122, 513, "<b>pSVE</b>", size=32)
for xa in ("x2", "x3"):
    for xv, name in zip(D_POS, D_MODELS):
        txt(xv - 0.03, 884, name, size=31, angle=-45, xref=xa)

# (e) axis lines and labels
shp(type="line", xref="x4", yref="y7", x0=E_XR[0] + 0.05, x1=E_XR[0] + 0.05, y0=0.86, y1=11.14,
    line=dict(color=AX, width=2))
shp(type="line", xref="x4", yref="y7", x0=-4, x1=16, y0=E_YR[0] + 0.03, y1=E_YR[0] + 0.03,
    line=dict(color=AX, width=2))
txt(1243, 304, "Recording No", size=33, angle=-90)
txt(1562, 640, "Static Gain", size=33)
txt(1562, 675, "(spikes/s / mW-mm<sup>-2</sup>)", size=33)

# (c) labels, legend, scale bars
for k, name in enumerate(["neuron 1", "neuron 2", "neuron 3", "neuron 4"]):
    txt(249, [1008, 1131, 1248, 1460][k], name, size=32, xa="left")
txt(312, 1578, "Optical", size=32)
txt(312, 1612, "Stimulus", size=32)
txt(708, 999, "<b><i>train</i></b>", size=35, color="#8a8a8a")
txt(1102, 999, "<b><i>test</i></b>", size=35, color="#8a8a8a")
txt(140, 1294, "Firing Rate", size=33, angle=-90)
txt(918, 1743, "Time (s)", size=33)
txt(915, 1611, "//", size=28, color="#8a8a8a")
shp(type="line", x0=1420, x1=1510, y0=938, y1=938, line=dict(color=DARK, width=5))
shp(type="line", x0=1420, x1=1510, y0=977, y1=977, line=dict(color=RED, width=5))
txt(1521, 938, "PSTH", size=27, xa="left")
txt(1521, 977, "GLDS", size=27, xa="left")
shp(type="line", xref="x6", yref="y12", x0=5.089, x1=5.089, y0=85, y1=185, line=dict(color="black", width=2.5))
shp(type="line", xref="x6", yref="y8", x0=5.077, x1=5.077, y0=3.0, y1=8.0, line=dict(color="black", width=2.5))
txt(1363, 1436, "100 spikes/s", size=32, xa="left")
txt(1355, 1601, "5 mW/mm²", size=32, xa="left")

fig.update_layout(**lay)
fig.update_layout(width=W, height=H, margin=dict(l=0, r=0, t=0, b=0, pad=0, autoexpand=False),
                  paper_bgcolor="white", plot_bgcolor="rgba(0,0,0,0)", showlegend=False,
                  font=dict(family=FONT, color=INK, size=30), shapes=shapes, annotations=ann)
# the page's default 8px body margin would shift the whole figure
fig.write_html("out.html", config={"displayModeBar": False},
               post_script="document.body.style.margin='0px';")
